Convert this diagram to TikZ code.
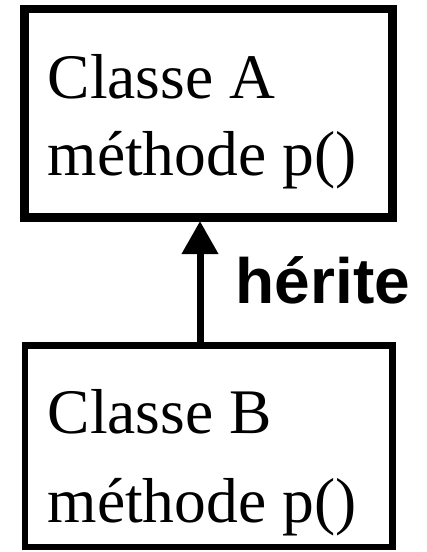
\documentclass[tikz,border=0pt]{standalone}
\usepackage{fontspec}
\setmainfont{Liberation Serif}
\newfontfamily\labelfont{Liberation Sans}
\usetikzlibrary{arrows.meta}
\begin{document}
\begin{tikzpicture}[x=1pt,y=-1pt,
  classbox/.style={draw=black,fill=none,rectangle,inner sep=0pt,outer sep=0pt},
  classtext/.style={anchor=base west,inner sep=0pt,font=\fontsize{63.5}{63.5}\selectfont},
  inherit/.style={line width=7pt,-{Triangle[length=33pt,width=35pt]}},
  lbl/.style={anchor=base west,inner sep=0pt,font=\labelfont\bfseries\fontsize{64}{64}\selectfont}]
\useasboundingbox (0,0) rectangle (427,552);
\node[classbox,line width=8.5pt,minimum width=368pt,minimum height=208.5pt] (A) at (208.5,113.25) {};
\node[classbox,line width=6.5pt,minimum width=367.5pt,minimum height=201.5pt] (B) at (208.75,446.25) {};
\node[classtext] (A1) at (47.5,98) {Classe A};
\node[classtext] (A2) at (47.5,175) {méthode p()};
\node[classtext] (B1) at (47.5,433) {Classe B};
\node[classtext] (B2) at (47.5,522) {méthode p()};
\coordinate (bt) at (200,342);
\coordinate (at) at (200,221);
\draw[inherit] (bt) -- (at);
\node[lbl] (h) at (235.5,303) {hérite};
\end{tikzpicture}
\end{document}
